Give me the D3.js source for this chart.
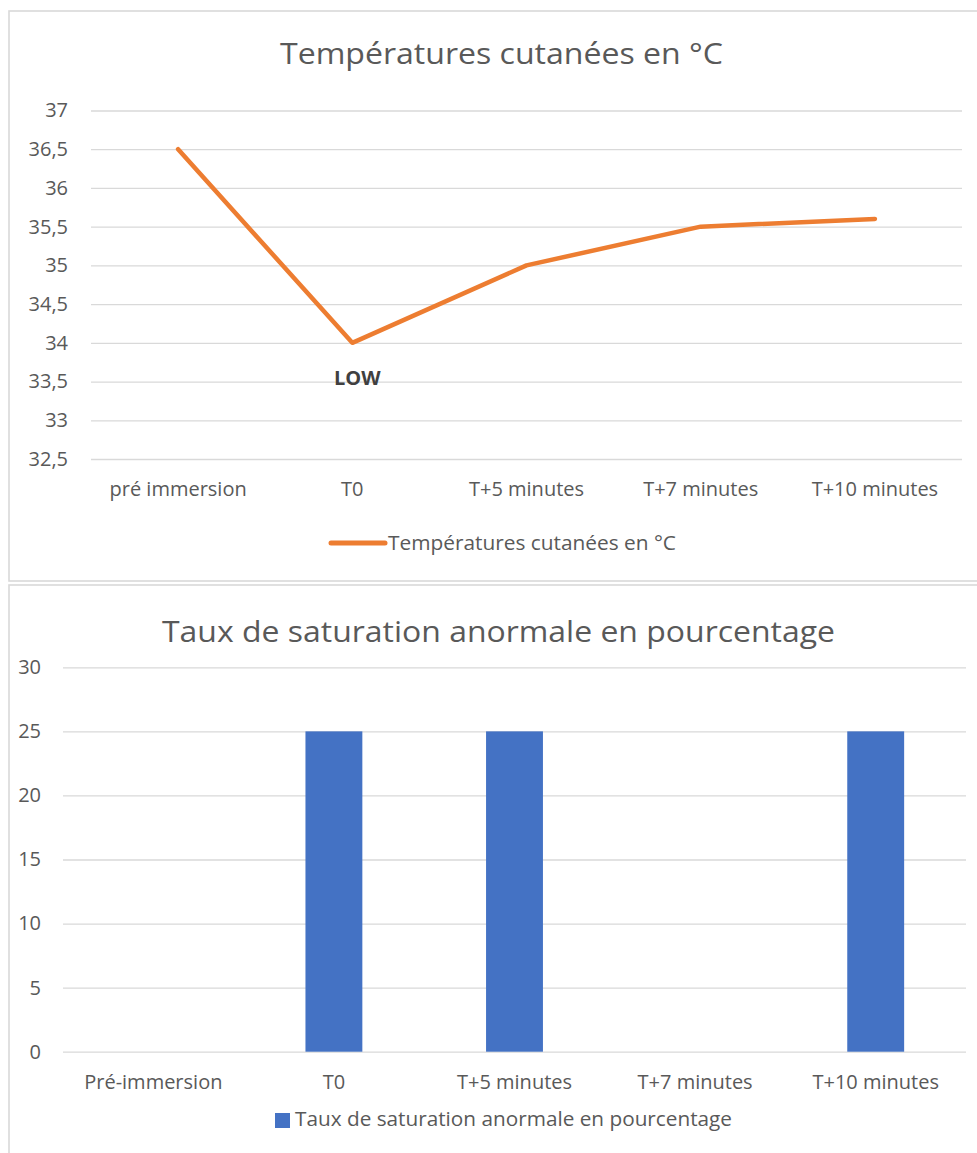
<!DOCTYPE html>
<html><head><meta charset="utf-8">
<script src="https://cdn.jsdelivr.net/npm/d3@7"></script>
<style>html,body{margin:0;padding:0;background:#fff;} svg{display:block;}</style>
</head><body>
<svg id="c" width="977" height="1153"></svg>
<script>
const tempCategories = ["pré immersion", "T0", "T+5 minutes", "T+7 minutes", "T+10 minutes"];
const tempValues = [36.5, 34, 35, 35.5, 35.6];
const tempTicks = [32.5, 33, 33.5, 34, 34.5, 35, 35.5, 36, 36.5, 37];
const tempTitle = "Températures cutanées en °C";
const tempAnnotations = [{category: "T0", label: "LOW"}];

const satCategories = ["Pré-immersion", "T0", "T+5 minutes", "T+7 minutes", "T+10 minutes"];
const satValues = [0, 25, 25, 0, 25];
const satTicks = [0, 5, 10, 15, 20, 25, 30];
const satTitle = "Taux de saturation anormale en pourcentage";

const FONT = "'Open Sans', sans-serif";
const TXT = "#595959", GRID = "#d9d9d9";
const LBL = 20;
const fmt = d => String(d).replace(".", ",");
const svg = d3.select("#c");

function fitText(sel, w) { sel.attr("textLength", w).attr("lengthAdjust", "spacingAndGlyphs"); }

// ---------- Chart 1: line ----------
{
  const g = svg.append("g");
  g.append("rect").attr("x", 9).attr("y", 11).attr("width", 990).attr("height", 570)
    .attr("fill", "#fff").attr("stroke", GRID).attr("stroke-width", 1.6);
  const x = d3.scaleBand().domain(tempCategories).range([91, 962]);
  const y = d3.scaleLinear().domain([32.5, 37]).range([459, 110.5]);

  g.append("text").attr("x", 280).attr("y", 64).attr("fill", TXT)
    .attr("font-family", FONT).attr("font-size", 29.5).text(tempTitle).call(fitText, 443);

  const ya = g.append("g").attr("transform", "translate(91,0)")
    .call(d3.axisLeft(y).tickValues(tempTicks).tickFormat(fmt).tickSize(-871).tickPadding(23));
  ya.select(".domain").remove();
  ya.selectAll("line").attr("stroke", GRID).attr("stroke-width", 1.3);
  ya.selectAll("text").attr("fill", TXT).attr("font-family", FONT).attr("font-size", LBL);

  const xa = g.append("g").attr("transform", "translate(0,459)")
    .call(d3.axisBottom(x).tickSize(0).tickPadding(23));
  xa.select(".domain").remove();
  xa.selectAll("text").attr("fill", TXT).attr("font-family", FONT).attr("font-size", LBL);

  const line = d3.line().x((d, i) => x(tempCategories[i]) + x.bandwidth() / 2).y(d => y(d));
  g.append("path").datum(tempValues).attr("d", line).attr("fill", "none")
    .attr("stroke", "#ED7D31").attr("stroke-width", 4.5)
    .attr("stroke-linejoin", "round").attr("stroke-linecap", "round");

  tempAnnotations.forEach(a => {
    const i = tempCategories.indexOf(a.category);
    g.append("text").attr("x", x(a.category) + x.bandwidth() / 2 + 5).attr("y", y(tempValues[i]) + 42)
      .attr("text-anchor", "middle").attr("fill", "#404040").attr("font-weight", "bold")
      .attr("font-family", FONT).attr("font-size", 20).text(a.label);
  });

  g.append("line").attr("x1", 331).attr("x2", 385).attr("y1", 543).attr("y2", 543)
    .attr("stroke", "#ED7D31").attr("stroke-width", 5).attr("stroke-linecap", "round");
  g.append("text").attr("x", 388).attr("y", 550).attr("fill", TXT)
    .attr("font-family", FONT).attr("font-size", LBL).text(tempTitle).call(fitText, 288);
}

// ---------- Chart 2: bars ----------
{
  const g = svg.append("g");
  g.append("rect").attr("x", 9).attr("y", 585).attr("width", 990).attr("height", 600)
    .attr("fill", "#fff").attr("stroke", GRID).attr("stroke-width", 1.6);
  const x = d3.scaleBand().domain(satCategories).range([63, 966]);
  const y = d3.scaleLinear().domain([0, 30]).range([1051.7, 667.3]);

  g.append("text").attr("x", 162).attr("y", 642).attr("fill", TXT)
    .attr("font-family", FONT).attr("font-size", 29.5).text(satTitle).call(fitText, 673);

  const ya = g.append("g").attr("transform", "translate(63,0)")
    .call(d3.axisLeft(y).tickValues(satTicks).tickFormat(fmt).tickSize(-903).tickPadding(22));
  ya.select(".domain").remove();
  ya.selectAll("line").attr("stroke", GRID).attr("stroke-width", 1.3);
  ya.selectAll("text").attr("fill", TXT).attr("font-family", FONT).attr("font-size", LBL);

  const bw = x.bandwidth() * 0.315;
  g.selectAll("rect.bar").data(satValues).enter().append("rect").attr("class", "bar")
    .attr("x", (d, i) => x(satCategories[i]) + (x.bandwidth() - bw) / 2)
    .attr("width", bw)
    .attr("y", d => y(d)).attr("height", d => y(0) - y(d))
    .attr("fill", "#4472C4");

  const xa = g.append("g").attr("transform", "translate(0,1051.7)")
    .call(d3.axisBottom(x).tickSize(0).tickPadding(23));
  xa.select(".domain").remove();
  xa.selectAll("text").attr("fill", TXT).attr("font-family", FONT).attr("font-size", LBL);

  g.append("rect").attr("x", 275).attr("y", 1113).attr("width", 15).attr("height", 15).attr("fill", "#4472C4");
  g.append("text").attr("x", 295).attr("y", 1126).attr("fill", TXT)
    .attr("font-family", FONT).attr("font-size", LBL).text(satTitle).call(fitText, 437);
}
</script>
</body></html>
